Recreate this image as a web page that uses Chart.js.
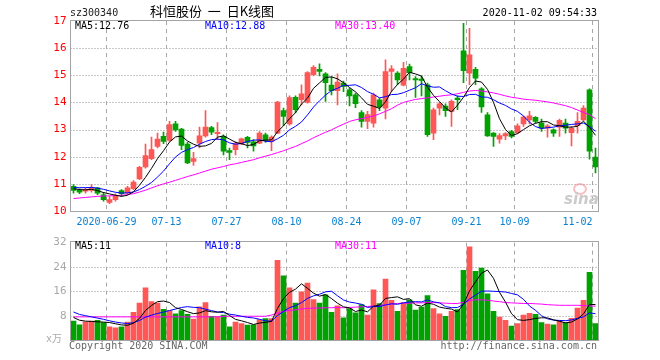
<!DOCTYPE html>
<html><head><meta charset="utf-8">
<script src="https://cdn.jsdelivr.net/npm/chart.js@4.4.1/dist/chart.umd.min.js"></script>
<style>
html,body{margin:0;padding:0;background:#fff;}
#wrap{position:relative;width:660px;height:360px;overflow:hidden;background:#fff;}
canvas{position:absolute;left:0;}
#cMain{top:0;}
#cVol{top:232px;}
.t{position:absolute;font-family:'DejaVu Sans Mono',monospace;font-size:10px;line-height:12px;white-space:pre;}
</style></head><body>
<div id="wrap">
<canvas id="cMain" width="660" height="232"></canvas>
<canvas id="cVol" width="660" height="128"></canvas>
<div class="t" style="left:70px;top:7px;color:#222">sz300340</div>
<div class="t" style="left:150px;top:4px;font-family:'Noto Sans CJK SC',sans-serif;font-size:13px;line-height:14px;color:#000">科恒股份  一  日K线图</div>
<div class="t" style="right:63px;top:7px;color:#000">2020-11-02 09:54:33</div>
<div class="t" style="left:75px;top:20px;color:#000">MA5:12.76</div>
<div class="t" style="left:205px;top:20px;color:#0000ff">MA10:12.88</div>
<div class="t" style="left:335px;top:20px;color:#ff00ff">MA30:13.40</div>
<div class="t" style="left:75px;top:240px;color:#000">MA5:11</div>
<div class="t" style="left:205px;top:240px;color:#0000ff">MA10:8</div>
<div class="t" style="left:335px;top:240px;color:#ff00ff">MA30:11</div>
<div class="t" style="left:69px;top:340px;color:#666">Copyright 2020 SINA.COM</div>
<div class="t" style="right:63px;top:340px;color:#666">http://finance.sina.com.cn</div>
<div class="t" style="left:46px;top:333px;color:#aaa;font-family:'DejaVu Sans Mono','Noto Sans CJK SC',sans-serif">x万</div>
<div style="position:absolute;left:573px;top:183px;width:10px;height:8px;border:2px solid rgba(240,110,120,0.45);border-radius:50%"></div>
<div class="t" style="left:564px;top:191px;font-family:'DejaVu Sans',sans-serif;font-style:italic;font-weight:bold;font-size:15px;line-height:16px;color:#cbcbcb">sina</div>
</div>
<script>
const dates = [
 '2020-06-17','2020-06-18','2020-06-19','2020-06-22','2020-06-23','2020-06-24',
 '2020-06-29','2020-06-30','2020-07-01','2020-07-02','2020-07-03','2020-07-06','2020-07-07','2020-07-08','2020-07-09','2020-07-10',
 '2020-07-13','2020-07-14','2020-07-15','2020-07-16','2020-07-17','2020-07-20','2020-07-21','2020-07-22','2020-07-23','2020-07-24',
 '2020-07-27','2020-07-28','2020-07-29','2020-07-30','2020-07-31','2020-08-03','2020-08-04','2020-08-05','2020-08-06','2020-08-07',
 '2020-08-10','2020-08-11','2020-08-12','2020-08-13','2020-08-14','2020-08-17','2020-08-18','2020-08-19','2020-08-20','2020-08-21',
 '2020-08-24','2020-08-25','2020-08-26','2020-08-27','2020-08-28','2020-08-31','2020-09-01','2020-09-02','2020-09-03','2020-09-04',
 '2020-09-07','2020-09-08','2020-09-09','2020-09-10','2020-09-11','2020-09-14','2020-09-15','2020-09-16','2020-09-17','2020-09-18',
 '2020-09-21','2020-09-22','2020-09-23','2020-09-24','2020-09-25','2020-09-28','2020-09-29','2020-09-30',
 '2020-10-09','2020-10-12','2020-10-13','2020-10-14','2020-10-15','2020-10-16','2020-10-19','2020-10-20','2020-10-21','2020-10-22','2020-10-23','2020-10-26','2020-10-27',
 '2020-11-02'];
const openP = [
 10.91,10.76,10.73,10.76,10.85,10.60,10.32,10.42,10.75,10.66,
 10.82,11.18,11.62,11.93,12.38,12.75,12.60,13.21,13.02,12.47,
 11.83,12.50,12.77,13.07,12.85,12.75,12.23,12.26,12.47,12.71,
 12.55,12.50,12.81,12.56,12.87,13.70,13.21,14.19,14.10,14.00,
 15.02,15.22,15.05,14.64,14.43,14.71,14.46,14.28,13.63,13.30,
 13.24,14.10,13.79,15.14,15.08,14.64,15.32,14.88,14.86,14.65,
 12.87,13.79,13.87,13.67,14.16,15.90,15.08,15.22,14.50,13.54,
 12.87,12.65,12.77,12.93,12.89,13.21,13.36,13.45,13.24,13.05,
 12.99,13.09,13.24,12.89,13.14,13.36,14.46,11.99];
const highP = [
 10.97,10.82,10.85,10.97,10.87,10.69,10.54,10.63,10.79,10.91,
 11.12,11.65,12.47,12.72,12.87,12.91,13.30,13.30,13.05,12.53,
 12.16,13.09,13.70,13.12,13.26,12.81,12.32,12.56,12.69,12.75,
 12.63,12.93,12.87,12.77,14.04,13.79,14.24,14.24,14.65,15.14,
 15.36,15.42,15.10,14.95,15.05,14.79,14.53,14.34,13.70,13.67,
 14.34,14.16,15.57,15.36,15.14,15.48,15.41,14.95,14.98,14.71,
 13.79,14.00,13.95,14.10,14.24,16.91,16.73,15.29,14.55,13.63,
 12.89,12.85,12.89,12.97,13.21,13.51,13.67,13.48,13.39,13.18,
 13.03,13.39,13.39,13.12,13.63,13.88,14.50,12.32];
const lowP = [
 10.66,10.64,10.66,10.69,10.60,10.36,10.27,10.36,10.54,10.60,
 10.79,11.15,11.58,11.89,12.32,12.48,12.56,12.93,12.26,11.74,
 11.68,12.32,12.72,12.81,12.63,12.07,11.89,12.07,12.44,12.32,
 12.20,12.48,12.53,12.22,12.85,13.14,13.16,13.61,13.91,13.97,
 14.98,14.98,14.04,14.28,13.91,14.40,13.87,13.81,13.09,13.03,
 13.09,13.70,13.39,14.40,14.65,14.61,14.83,14.18,14.24,12.75,
 12.63,13.54,13.48,13.12,13.73,14.73,14.65,14.65,13.63,12.75,
 12.38,12.50,12.63,12.69,12.85,13.12,13.21,13.24,12.93,12.72,
 12.75,12.75,12.87,12.40,12.87,13.34,11.91,11.40];
const closeP = [
 10.76,10.69,10.79,10.85,10.66,10.42,10.42,10.57,10.64,10.85,
 11.07,11.61,12.04,12.26,12.65,12.56,13.18,12.99,12.42,11.77,
 11.93,12.77,13.09,12.90,12.90,12.20,12.16,12.48,12.66,12.53,
 12.40,12.87,12.60,12.72,14.01,13.48,14.18,13.73,14.32,15.10,
 15.29,15.14,14.73,14.43,14.75,14.59,14.24,13.95,13.30,13.55,
 14.28,13.83,15.14,15.24,14.83,15.26,15.10,14.83,14.81,12.81,
 13.73,13.95,13.70,14.04,14.10,15.17,15.75,14.89,13.83,12.77,
 12.75,12.78,12.85,12.75,13.14,13.46,13.51,13.30,13.05,13.14,
 12.87,13.34,13.05,13.05,13.30,13.79,12.20,11.62];
const ma5 = [
 10.82,10.79,10.78,10.80,10.75,10.68,10.63,10.58,10.54,10.58,
 10.71,10.95,11.24,11.57,11.93,12.22,12.54,12.73,12.76,12.58,
 12.46,12.38,12.40,12.49,12.72,12.77,12.65,12.53,12.48,12.41,
 12.45,12.59,12.61,12.62,12.92,13.14,13.40,13.62,13.94,14.16,
 14.52,14.72,14.92,14.94,14.87,14.73,14.55,14.39,14.17,13.93,
 13.86,13.78,14.02,14.41,14.66,14.86,15.11,15.05,14.97,14.56,
 14.26,14.03,13.80,13.65,13.90,14.19,14.55,14.79,14.75,14.48,
 14.00,13.40,13.00,12.78,12.85,13.00,13.14,13.23,13.29,13.29,
 13.17,13.14,13.09,13.09,13.12,13.31,13.08,12.79];
const ma10 = [
 10.86,10.86,10.86,10.87,10.84,10.80,10.74,10.69,10.66,10.67,
 10.70,10.79,10.91,11.05,11.25,11.47,11.74,11.99,12.16,12.26,
 12.34,12.46,12.56,12.63,12.65,12.62,12.51,12.46,12.49,12.56,
 12.61,12.62,12.57,12.55,12.66,12.79,12.99,13.12,13.28,13.54,
 13.83,14.06,14.27,14.44,14.52,14.63,14.63,14.65,14.55,14.40,
 14.30,14.17,14.21,14.29,14.30,14.36,14.45,14.54,14.69,14.61,
 14.56,14.57,14.43,14.31,14.23,14.22,14.29,14.30,14.20,14.19,
 14.10,13.98,13.89,13.76,13.67,13.50,13.27,13.11,13.04,13.07,
 13.09,13.14,13.16,13.19,13.21,13.24,13.11,12.94];
const ma30 = [
 10.46,10.48,10.50,10.52,10.54,10.55,10.56,10.57,10.58,10.60,
 10.64,10.70,10.77,10.85,10.93,11.00,11.06,11.13,11.20,11.27,
 11.33,11.40,11.47,11.54,11.59,11.64,11.70,11.74,11.79,11.84,
 11.89,11.96,12.02,12.08,12.15,12.22,12.30,12.38,12.48,12.58,
 12.70,12.80,12.90,12.99,13.10,13.20,13.30,13.36,13.40,13.45,
 13.50,13.58,13.67,13.77,13.90,14.00,14.06,14.11,14.14,14.17,
 14.20,14.23,14.26,14.28,14.32,14.37,14.42,14.44,14.42,14.39,
 14.35,14.30,14.24,14.19,14.16,14.12,14.10,14.08,14.05,14.02,
 13.98,13.93,13.88,13.81,13.72,13.63,13.55,13.40];
const volume = [
 6.2,5.0,6.0,6.2,6.5,5.7,4.3,4.0,4.3,5.9,
 9.1,12.1,17.1,12.6,12.1,10.1,9.7,8.6,9.7,8.4,
 6.9,10.9,12.3,7.8,7.7,8.2,4.3,5.9,5.4,4.9,
 5.0,6.7,7.0,7.0,26.2,21.1,17.1,12.1,15.8,18.7,
 13.3,12.1,14.8,9.1,11.2,7.3,10.3,8.9,11.6,8.2,
 16.5,12.0,20.0,13.0,9.4,12.3,13.2,9.8,10.8,14.6,
 10.3,8.6,7.8,9.4,10.0,22.9,30.6,22.6,23.6,15.2,
 9.4,7.5,6.5,4.6,5.4,8.2,8.8,8.4,5.7,5.2,
 5.0,6.5,5.7,7.1,10.5,13.0,22.2,5.4];
const volMa5 = [
 7.4,6.5,6.2,6.1,5.98,5.88,5.74,5.34,4.96,4.84,
 5.52,7.08,9.70,11.36,12.60,12.80,12.32,10.62,10.04,9.30,
 8.66,8.90,9.64,9.26,9.12,9.38,8.06,6.78,6.30,5.74,
 5.10,5.58,5.80,6.12,10.38,13.60,15.68,16.70,18.46,16.96,
 15.40,14.40,14.94,13.60,12.10,10.90,10.54,9.36,9.86,9.26,
 11.10,11.44,13.66,13.94,14.18,13.34,13.58,11.54,11.10,12.14,
 11.74,10.82,10.42,10.14,9.22,11.74,16.14,19.10,21.94,22.98,
 20.28,15.66,12.44,8.64,6.68,6.44,6.70,7.08,7.30,7.26,
 6.62,6.16,5.62,5.90,6.96,8.56,11.70,11.64];
const volMa10 = [
 9.2,8.4,8.0,7.6,7.2,6.8,6.3,5.9,5.6,5.41,
 5.70,6.41,7.52,8.16,8.72,9.16,9.70,10.16,10.70,10.95,
 10.73,10.61,10.13,9.65,9.21,9.02,8.48,8.21,7.78,7.43,
 7.24,6.82,6.29,6.21,8.06,9.35,10.63,11.25,12.29,13.67,
 14.50,15.04,15.82,16.03,14.53,13.15,12.47,12.15,11.73,10.68,
 11.00,10.99,11.51,11.90,11.72,12.22,12.51,12.60,12.52,13.16,
 12.54,12.20,10.98,10.62,10.68,11.74,13.48,14.76,16.04,16.10,
 16.01,15.90,15.77,15.29,14.83,13.36,11.18,9.76,7.97,6.97,
 6.53,6.43,6.35,6.60,7.11,7.59,8.93,8.63];
const volMa30 = [
 7.6,7.6,7.6,7.6,7.6,7.6,7.6,7.6,7.6,7.6,
 7.6,7.6,7.6,7.6,7.6,7.6,7.6,7.6,7.6,7.6,
 7.6,7.6,7.6,7.6,7.6,7.8,7.8,7.8,7.8,7.8,
 7.8,7.8,7.8,8.2,8.9,9.4,9.7,9.9,10.2,10.4,
 10.5,10.5,10.6,10.6,10.7,10.6,10.7,10.8,10.9,11.0,
 11.2,11.4,11.6,11.8,12.0,12.1,12.1,12.2,12.2,12.3,
 12.3,12.2,12.1,12.0,12.0,12.4,13.0,13.2,13.2,13.1,
 12.8,12.6,12.3,12.2,12.1,12.0,12.0,11.9,11.8,11.6,
 11.5,11.4,11.4,11.4,11.4,11.3,11.2,11.1];
const tickDates = ['2020-06-29','2020-07-13','2020-07-27','2020-08-10','2020-08-24','2020-09-07','2020-09-21','2020-10-09','2020-11-02'];
const tickLabels = ['2020-06-29','07-13','07-27','08-10','08-24','09-07','09-21','10-09','11-02'];

const RED = '#ff5656', GREEN = '#00a200';
const candleColors = closeP.map((c, i) => c >= openP[i] ? RED : GREEN);
const tickIdx = tickDates.map(d => dates.indexOf(d));
const MONO = "'DejaVu Sans Mono', monospace";

// grid (dotted horizontals at y ticks, dashed verticals at labelled dates) + frame, placed via the chart's scales
function drawGrid(chart) {
  const a = chart.chartArea, g = chart.ctx, xs = chart.scales.x, ys = chart.scales.y;
  g.save();
  g.lineWidth = 1;
  g.strokeStyle = '#959595';
  g.setLineDash([1, 2]);
  for (const t of ys.ticks) {
    if (t.value > ys.min && t.value < ys.max) {
      const y = Math.round(ys.getPixelForValue(t.value)) + 0.5;
      g.beginPath(); g.moveTo(a.left, y); g.lineTo(a.right, y); g.stroke();
    }
  }
  g.strokeStyle = '#a6a6a6';
  g.setLineDash([4, 4]);
  const half = (a.right - a.left) / dates.length / 2;
  for (const i of tickIdx) {
    const x = Math.floor(xs.getPixelForValue(i) - half) + 0.5;
    g.beginPath(); g.moveTo(x, a.top); g.lineTo(x, a.bottom); g.stroke();
  }
  g.restore();
}
const frame = {
  id: 'frame',
  beforeDraw(chart) {
    drawGrid(chart);
  },
  afterDraw(chart) {
    const a = chart.chartArea, g = chart.ctx;
    g.save();
    g.strokeStyle = '#a4a4a4'; g.lineWidth = 1; g.setLineDash([]);
    const x0 = Math.floor(a.left) + 0.5, y0 = Math.floor(a.top) - 0.5;
    const x1 = Math.floor(a.right) + 0.5, y1 = Math.floor(a.bottom) + 0.5;
    g.strokeRect(x0, y0, x1 - x0, y1 - y0);
    g.restore();
  }
};

function lineDs(data, color) {
  return {type: 'line', data, borderColor: color, borderWidth: 1, pointRadius: 0, tension: 0, fill: false, order: 0};
}

new Chart(document.getElementById('cMain'), {
  data: {
    labels: dates,
    datasets: [
      lineDs(ma5, '#000000'),
      lineDs(ma10, '#0000ff'),
      lineDs(ma30, '#ff00ff'),
      {type: 'bar', data: lowP.map((l, i) => [l, highP[i]]), backgroundColor: candleColors, barThickness: 1, grouped: false, borderWidth: 0, order: 2},
      {type: 'bar', data: openP.map((o, i) => [o, closeP[i]]), backgroundColor: candleColors, barThickness: 5, grouped: false, borderWidth: 0, minBarLength: 1, order: 1}
    ]
  },
  options: {
    responsive: false, animation: false, events: [],
    layout: {padding: {top: 21, right: 61.5, left: 0, bottom: 0}},
    plugins: {legend: {display: false}, tooltip: {enabled: false}},
    scales: {
      x: {
        type: 'category', offset: true,
        grid: {display: false, drawTicks: false, offset: true},
        border: {display: false},
        ticks: {
          autoSkip: false, maxRotation: 0, minRotation: 0, padding: 5, labelOffset: -3,
          color: '#0a80d2', font: {family: MONO, size: 10},
          callback: (v, i) => {
            const j = tickIdx.indexOf(i);
            if (j < 0) return '';
            return j === tickLabels.length - 1 ? tickLabels[j] + '     ' : tickLabels[j];
          }
        },
        afterFit(s) { s.height = 21; }
      },
      y: {
        min: 10, max: 17,
        ticks: {stepSize: 1, padding: 4, color: '#ff0000', font: {family: MONO, size: 11}},
        grid: {display: false, drawTicks: false},
        border: {display: false},
        afterFit(s) { s.width = 70.5; }
      }
    }
  },
  plugins: [frame]
});

new Chart(document.getElementById('cVol'), {
  data: {
    labels: dates,
    datasets: [
      lineDs(volMa5, '#000000'),
      lineDs(volMa10, '#0000ff'),
      lineDs(volMa30, '#ff00ff'),
      {type: 'bar', data: volume, backgroundColor: candleColors, barThickness: 5, borderWidth: 0, order: 1}
    ]
  },
  options: {
    responsive: false, animation: false, events: [],
    layout: {padding: {top: 8, right: 61.5, left: 0, bottom: 0}},
    plugins: {legend: {display: false}, tooltip: {enabled: false}},
    scales: {
      x: {
        type: 'category', offset: true,
        grid: {display: false, drawTicks: false, offset: true},
        border: {display: false},
        ticks: {display: false, autoSkip: false, maxRotation: 0},
        afterFit(s) { s.height = 20; }
      },
      y: {
        min: 0, max: 32,
        ticks: {stepSize: 8, padding: 4, color: '#a8a8a8', font: {family: MONO, size: 11}, callback: v => v === 0 ? '' : v},
        grid: {display: false, drawTicks: false},
        border: {display: false},
        afterFit(s) { s.width = 70.5; }
      }
    }
  },
  plugins: [frame]
});
</script>
</body></html>
